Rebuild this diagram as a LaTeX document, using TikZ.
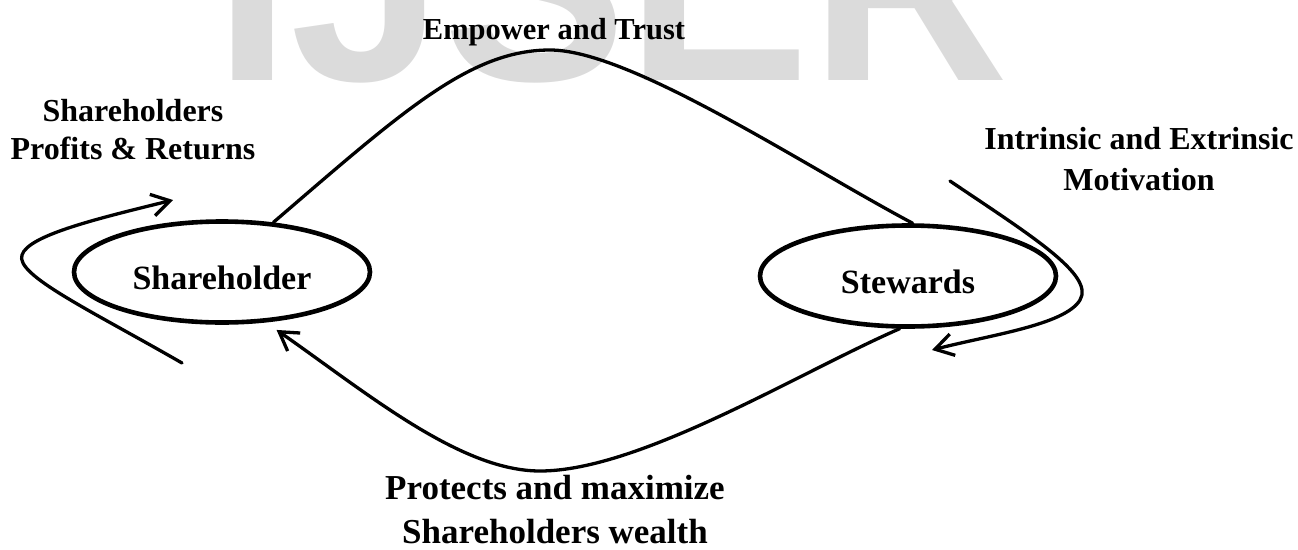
\documentclass[tikz,border=0pt]{standalone}
\usepackage{fontspec}
\setmainfont{Liberation Serif}
\newfontfamily\wmfont{Liberation Sans}
\usetikzlibrary{arrows.meta,shapes.geometric}

\begin{document}
\begin{tikzpicture}[x=1pt,y=-1pt,>={Straight Barb[length=18pt,width=22pt]},line join=round,line cap=round,
	party/.style={draw,ellipse,line width=4.6pt,minimum width=296pt,minimum height=101pt,inner sep=0pt,
		text height=34pt,text depth=0pt,font=\fontsize{34}{40}\selectfont\bfseries},
	tag/.style={align=center,font=#1},
	flow/.style={line width=3.3pt},
	wmark/.style={anchor=base west,inner sep=0pt,text=black!14,font=\wmfont\bfseries\fontsize{275}{275}\selectfont}]
	\def\W{1298} % largeur
	\def\H{549} % hauteur
	\useasboundingbox (0,0) rectangle (\W,\H);
	\clip (0,0) rectangle (\W,\H);
	% filigrane
	\node[wmark] (logo) at (214,80) {IJSER};
	% les deux acteurs
	\node[party] (sh) at (222,272) {Shareholder};
	\node[party] (st) at (908,276) {Stewards};
	% textes
	\node[tag=\fontsize{30.5}{36}\selectfont\bfseries,anchor=base] (trust) at (554,39) {Empower and Trust};
	\node[tag=\fontsize{32}{38}\selectfont\bfseries] (profit) at (133,130) {Shareholders\\Profits \& Returns};
	\node[tag=\fontsize{32}{41}\selectfont\bfseries] (motiv) at (1139,159.5) {Intrinsic and Extrinsic\\Motivation};
	\node[tag=\fontsize{35}{44}\selectfont\bfseries] (wealth) at (555,510) {Protects and maximize\\Shareholders wealth};
	% courbe du haut
	\draw[flow] (sh.44) .. controls (403,111) and (470,50) .. (550,50)
		.. controls (630,50) and (803,165) .. (st.85);
	% courbe du bas
	\draw[flow,->,shorten >=13pt] (st.261) .. controls (800,372) and (640,471) .. (540,471)
		.. controls (460,471) and (367,393) .. (sh.311);
	% boucle gauche
	\coordinate (lfoot) at (182,363);
	\coordinate (lhead) at (173,200);
	\draw[flow,->] (lfoot) .. controls (90,310) and (15,275) .. (22,255)
		.. controls (28,235) and (100,218) .. (lhead);
	% boucle droite
	\coordinate (rtop) at (950,181);
	\coordinate (rhead) at (932,350);
	\draw[flow,->] (rtop) .. controls (1030,235) and (1095,275) .. (1080,300)
		.. controls (1065,325) and (990,335) .. (rhead);
\end{tikzpicture}
\end{document}
